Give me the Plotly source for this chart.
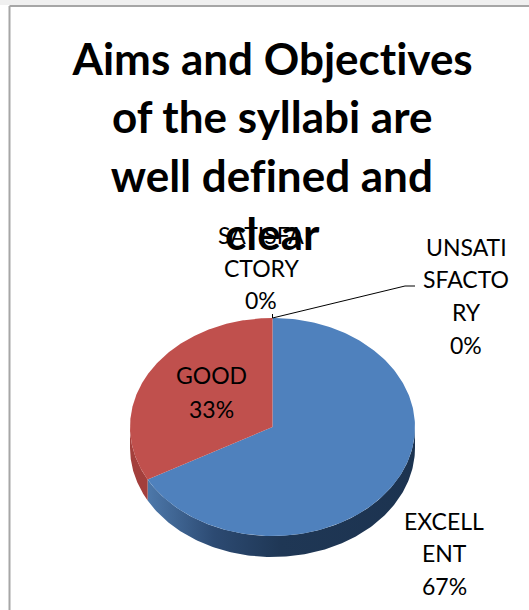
import numpy as np
import plotly.graph_objects as go

categories = ["EXCELLENT", "GOOD", "SATISFACTORY", "UNSATISFACTORY"]
values = [67, 33, 0, 0]
wrapped = [["EXCELL", "ENT"], ["GOOD"], ["SATISFA", "CTORY"], ["UNSATI", "SFACTO", "RY"]]
title_lines = ["Aims and Objectives", "of the syllabi are", "well defined and", "clear"]
face_colors = ["#4f81bd", "#c0504d"]

W, H = 529, 610
CX, CY, RX, RY, DEPTH = 272.5, 427, 142.5, 109, 21
FONT = "Lato"


def arc(a0, a1, n=160):
    t = np.linspace(a0, a1, n)
    return CX + RX * np.sin(t), CY - RY * np.cos(t)


fig = go.Figure()
total = sum(values)
fracs = np.cumsum([0] + values) / total

# side walls (visible front half only), then faces
blue_a0 = 2 * np.pi * fracs[0]
blue_a1 = 2 * np.pi * fracs[1]
red_a1 = 2 * np.pi * fracs[2]

sx, sy = arc(np.pi / 2, blue_a1)
fig.add_trace(go.Scatter(
    x=np.r_[sx, sx[::-1]], y=np.r_[sy, sy[::-1] + DEPTH], mode="lines", line_width=0,
    fill="toself", hoverinfo="skip",
    fillgradient=dict(type="horizontal", colorscale=[
        [0, "#4d78aa"], [0.25, "#2c4a72"], [0.5, "#1f3755"], [1, "#1c3350"]]),
))
sx, sy = arc(blue_a1, 1.5 * np.pi)
fig.add_trace(go.Scatter(
    x=np.r_[sx, sx[::-1]], y=np.r_[sy, sy[::-1] + DEPTH], mode="lines", line_width=0,
    fill="toself", fillcolor="#a33f3c", hoverinfo="skip",
))
for i, (a0, a1) in enumerate([(blue_a0, blue_a1), (blue_a1, red_a1)]):
    ex, ey = arc(a0, a1, 240)
    fig.add_trace(go.Scatter(
        x=np.r_[CX, ex, CX], y=np.r_[CY, ey, CY], mode="lines", line_width=0,
        fill="toself", fillcolor=face_colors[i], name=categories[i], hoverinfo="name",
    ))

# leader lines
fig.add_trace(go.Scatter(x=[CX, 405, 415], y=[CY - RY, 286, 286], mode="lines",
                         line=dict(color="black", width=1), hoverinfo="skip"))
fig.add_trace(go.Scatter(x=[CX, CX], y=[CY - RY, CY - RY - 4], mode="lines",
                         line=dict(color="black", width=1), hoverinfo="skip"))


def pct(i):
    return f"{round(100 * values[i] / total)}%"


label_x = [444, 211, 261, 466]
label_y = [[521, 553, 586], [375, 409], [235, 268, 300], [247, 279, 312, 345]]
for i, lines in enumerate(wrapped):
    for line, y in zip(lines + [pct(i)], label_y[i]):
        fig.add_annotation(x=label_x[i], y=y, text=line, showarrow=False,
                           font=dict(family=FONT, size=23, color="black"))

title_y = [58, 116, 174.5, 233]
for line, y in zip(title_lines, title_y):
    fig.add_annotation(x=272, y=y, text=f"<b>{line}</b>", showarrow=False,
                       font=dict(family=FONT, size=44, color="black"))

fig.add_shape(type="rect", x0=-5, x1=W + 5, y0=-5, y1=5, fillcolor="#f0f0f0", line_width=0, layer="below")
fig.add_shape(type="line", x0=9.5, x1=W + 5, y0=6, y1=6, line=dict(color="#a6a6a6", width=2), layer="below")
fig.add_shape(type="line", x0=9.5, x1=9.5, y0=6, y1=H + 5, line=dict(color="#a6a6a6", width=2), layer="below")

fig.update_layout(
    width=W, height=H, margin=dict(l=0, r=0, t=0, b=0), showlegend=False,
    paper_bgcolor="white", plot_bgcolor="white",
    xaxis=dict(range=[0, W], visible=False, fixedrange=True),
    yaxis=dict(range=[H, 0], visible=False, fixedrange=True),
)
fig.write_html("out.html", config={"displayModeBar": False},
               post_script="document.body.style.margin='0';document.body.style.overflow='hidden';"
                           "var s=document.createElement('style');"
                           "s.textContent='text{font-variant-ligatures:none !important}';"
                           "document.head.appendChild(s);")
